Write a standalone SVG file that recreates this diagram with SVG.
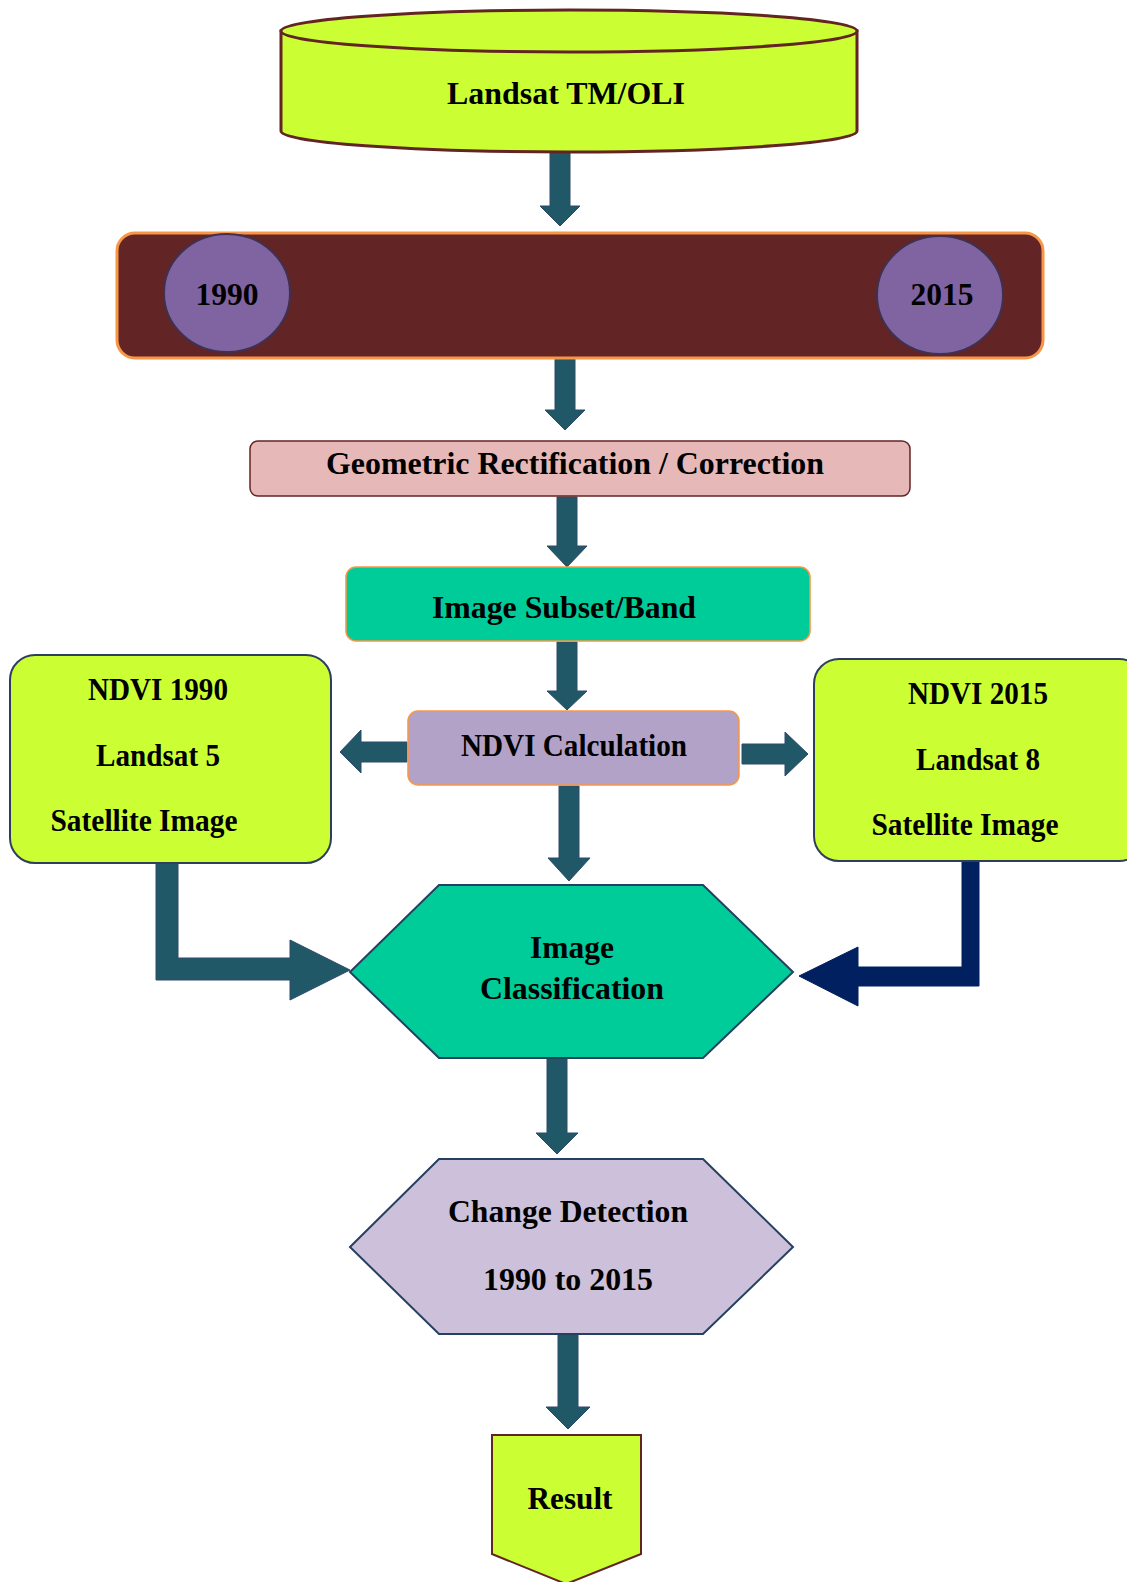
<svg xmlns="http://www.w3.org/2000/svg" width="1127" height="1582" viewBox="0 0 1127 1582">
  <style>
    .lbl { font-family: "Liberation Serif", "Times New Roman", serif; font-weight: bold; font-size: 32px; fill: #000; text-anchor: middle; }
    .conn { fill: #215868; stroke: #2E4A6B; stroke-width: 1; }
    .conn-navy { fill: #002060; stroke: #002060; stroke-width: 1; }
    .lime { fill: #CCFF33; }
    .teal { fill: #00CC99; }
  </style>
  <rect width="1127" height="1582" fill="#FFFFFF"/>

  <!-- connectors -->
  <g id="connectors">
    <polygon class="conn" points="550,151 570,151 570,206 580,206 560,226 540,206 550,206"/>
    <polygon class="conn" points="555,359 575,359 575,410 585,410 565,430 545,410 555,410"/>
    <polygon class="conn" points="557,497 577,497 577,546 587,546 567,567 547,546 557,546"/>
    <polygon class="conn" points="557,642 577,642 577,691 587,691 567,710 547,691 557,691"/>
    <polygon class="conn" points="559,786 579,786 579,858 590,858 569,881 548,858 559,858"/>
    <polygon class="conn" points="547,1059 567,1059 567,1133 578,1133 557,1154 536,1133 547,1133"/>
    <polygon class="conn" points="558,1335 578,1335 578,1407 590,1407 568,1429 546,1407 558,1407"/>
    <!-- side arrows from NDVI Calculation -->
    <polygon class="conn" points="407,742 407,762 361,762 361,773 340,752 361,730 361,742"/>
    <polygon class="conn" points="742,744 785,744 785,732 808,754 785,776 785,764 742,764"/>
    <!-- elbow arrows into Image Classification -->
    <polygon class="conn" points="156,863 178,863 178,958 290,958 290,940 350,970 290,1000 290,980 156,980"/>
    <polygon class="conn-navy" points="962,861 979,861 979,986 858,986 858,1006 799,976 858,947 858,967 962,967"/>
  </g>

  <!-- Landsat TM/OLI cylinder -->
  <g id="node-landsat">
    <path d="M281,31 L281,131 A288,21 0 0 0 857,131 L857,31 Z" class="lime" stroke="#632523" stroke-width="3"/>
    <ellipse cx="569" cy="31" rx="288" ry="21" class="lime" stroke="#632523" stroke-width="3"/>
    <text class="lbl" x="566" y="104" textLength="238" lengthAdjust="spacingAndGlyphs">Landsat TM/OLI</text>
  </g>

  <!-- years band -->
  <g id="node-years">
    <rect x="117" y="233" width="926" height="125" rx="18" fill="#622425" stroke="#F79646" stroke-width="3"/>
    <ellipse cx="227" cy="293" rx="63" ry="59" fill="#8064A2" stroke="#3F3151" stroke-width="2"/>
    <text class="lbl" x="227" y="305" textLength="63" lengthAdjust="spacingAndGlyphs">1990</text>
    <ellipse cx="940" cy="295" rx="63" ry="59" fill="#8064A2" stroke="#3F3151" stroke-width="2"/>
    <text class="lbl" x="942" y="305" textLength="63" lengthAdjust="spacingAndGlyphs">2015</text>
  </g>

  <!-- Geometric Rectification -->
  <g id="node-geometric">
    <rect x="250" y="441" width="660" height="55" rx="8" fill="#E6B8B7" stroke="#632523" stroke-width="1.5"/>
    <text class="lbl" x="575" y="474" textLength="498" lengthAdjust="spacingAndGlyphs">Geometric Rectification / Correction</text>
  </g>

  <!-- Image Subset/Band -->
  <g id="node-subset">
    <rect x="346" y="567" width="464" height="74" rx="10" class="teal" stroke="#F79646" stroke-width="1.5"/>
    <text class="lbl" x="564" y="618" textLength="264" lengthAdjust="spacingAndGlyphs">Image Subset/Band</text>
  </g>

  <!-- NDVI Calculation -->
  <g id="node-ndvi-calc">
    <rect x="408" y="711" width="331" height="74" rx="10" fill="#B2A2C7" stroke="#F79646" stroke-width="1.5"/>
    <text class="lbl" x="574" y="756" textLength="226" lengthAdjust="spacingAndGlyphs">NDVI Calculation</text>
  </g>

  <!-- NDVI 1990 -->
  <g id="node-ndvi-1990">
    <rect x="10" y="655" width="321" height="208" rx="25" class="lime" stroke="#2F3E5C" stroke-width="2"/>
    <text class="lbl" x="158" y="700" textLength="140" lengthAdjust="spacingAndGlyphs">NDVI 1990</text>
    <text class="lbl" x="158" y="766" textLength="124" lengthAdjust="spacingAndGlyphs">Landsat 5</text>
    <text class="lbl" x="144" y="831" textLength="187" lengthAdjust="spacingAndGlyphs">Satellite Image</text>
  </g>

  <!-- NDVI 2015 -->
  <g id="node-ndvi-2015">
    <rect x="814" y="659" width="330" height="202" rx="25" class="lime" stroke="#2F3E5C" stroke-width="2"/>
    <text class="lbl" x="978" y="704" textLength="140" lengthAdjust="spacingAndGlyphs">NDVI 2015</text>
    <text class="lbl" x="978" y="770" textLength="124" lengthAdjust="spacingAndGlyphs">Landsat 8</text>
    <text class="lbl" x="965" y="835" textLength="187" lengthAdjust="spacingAndGlyphs">Satellite Image</text>
  </g>

  <!-- Image Classification -->
  <g id="node-classification">
    <polygon points="350,972 439,885 703,885 793,972 703,1058 439,1058" class="teal" stroke="#254061" stroke-width="2"/>
    <text class="lbl" x="572" y="958" textLength="84" lengthAdjust="spacingAndGlyphs">Image</text>
    <text class="lbl" x="572" y="999" textLength="184" lengthAdjust="spacingAndGlyphs">Classification</text>
  </g>

  <!-- Change Detection -->
  <g id="node-change">
    <polygon points="350,1247 439,1159 703,1159 793,1247 703,1334 439,1334" fill="#CCC0DA" stroke="#254061" stroke-width="2"/>
    <text class="lbl" x="568" y="1222" textLength="240" lengthAdjust="spacingAndGlyphs">Change Detection</text>
    <text class="lbl" x="568" y="1290" textLength="170" lengthAdjust="spacingAndGlyphs">1990 to 2015</text>
  </g>

  <!-- Result -->
  <g id="node-result">
    <polygon points="492,1435 641,1435 641,1554 566,1584 492,1554" class="lime" stroke="#632523" stroke-width="2"/>
    <text class="lbl" x="570" y="1509" textLength="85" lengthAdjust="spacingAndGlyphs">Result</text>
  </g>
</svg>
